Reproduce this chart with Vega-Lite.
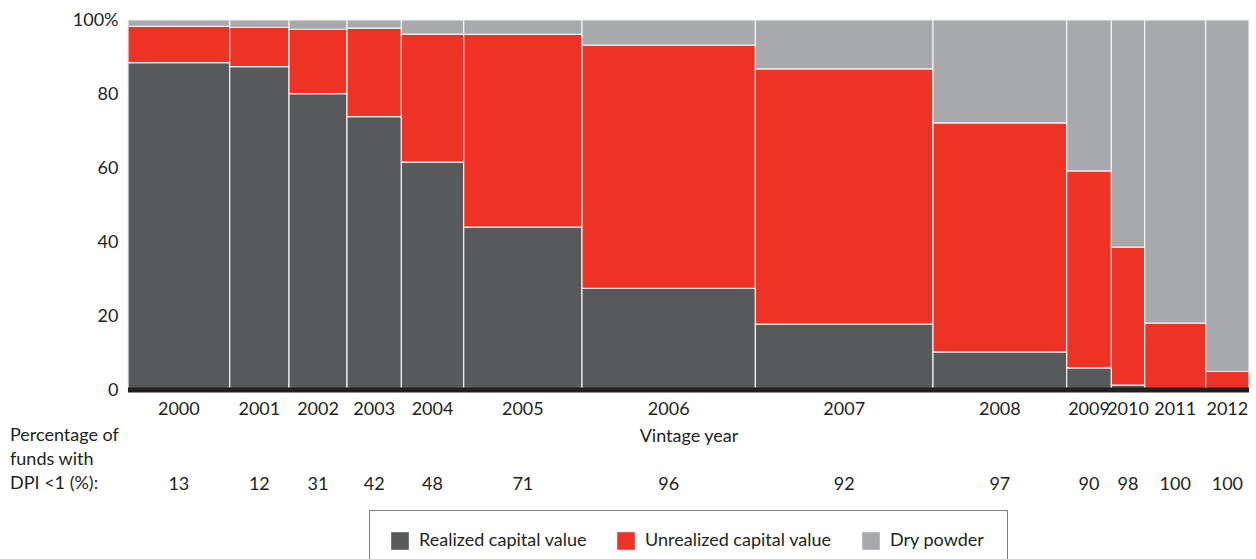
{
  "$schema": "https://vega.github.io/schema/vega-lite/v6.json",
  "width": 1121,
  "height": 370,
  "autosize": {"type": "none"},
  "padding": {"left": 128, "top": 20, "right": 7, "bottom": 169},
  "background": "white",
  "config": {
    "view": {"stroke": null},
    "font": "Lato",
    "text": {"font": "Lato", "fontSize": 18, "color": "#231F20"}
  },
  "datasets": {
    "funds": [
      {"year": "2000", "capital": 101.7, "dpi": 13, "Realized capital value": 88.5, "Unrealized capital value": 9.8, "Dry powder": 1.7},
      {"year": "2001", "capital": 59.3, "dpi": 12, "Realized capital value": 87.4, "Unrealized capital value": 10.6, "Dry powder": 2.0},
      {"year": "2002", "capital": 58.0, "dpi": 31, "Realized capital value": 80.1, "Unrealized capital value": 17.4, "Dry powder": 2.5},
      {"year": "2003", "capital": 54.4, "dpi": 42, "Realized capital value": 73.9, "Unrealized capital value": 23.9, "Dry powder": 2.2},
      {"year": "2004", "capital": 62.3, "dpi": 48, "Realized capital value": 61.6, "Unrealized capital value": 34.6, "Dry powder": 3.8},
      {"year": "2005", "capital": 118.3, "dpi": 71, "Realized capital value": 44.0, "Unrealized capital value": 52.1, "Dry powder": 3.9},
      {"year": "2006", "capital": 173.4, "dpi": 96, "Realized capital value": 27.5, "Unrealized capital value": 65.7, "Dry powder": 6.8},
      {"year": "2007", "capital": 177.6, "dpi": 92, "Realized capital value": 17.8, "Unrealized capital value": 69.0, "Dry powder": 13.2},
      {"year": "2008", "capital": 133.7, "dpi": 97, "Realized capital value": 10.3, "Unrealized capital value": 61.9, "Dry powder": 27.8},
      {"year": "2009", "capital": 44.7, "dpi": 90, "Realized capital value": 6.0, "Unrealized capital value": 53.2, "Dry powder": 40.8},
      {"year": "2010", "capital": 33.3, "dpi": 98, "Realized capital value": 1.3, "Unrealized capital value": 37.3, "Dry powder": 61.4},
      {"year": "2011", "capital": 61.0, "dpi": 100, "Realized capital value": 0.3, "Unrealized capital value": 17.8, "Dry powder": 81.9},
      {"year": "2012", "capital": 43.3, "dpi": 100, "Realized capital value": 0.2, "Unrealized capital value": 4.8, "Dry powder": 95.0}
    ]
  },
  "layer": [
    {
      "data": {"name": "funds"},
      "transform": [
        {"stack": "capital", "groupby": [], "sort": [{"field": "year", "order": "ascending"}], "as": ["x0", "x1"]},
        {"fold": ["Realized capital value", "Unrealized capital value", "Dry powder"], "as": ["category", "share"]},
        {"calculate": "indexof(['Realized capital value','Unrealized capital value','Dry powder'], datum.category)", "as": "ord"},
        {"stack": "share", "groupby": ["year"], "sort": [{"field": "ord", "order": "ascending"}], "as": ["y0", "y1"]}
      ],
      "mark": {"type": "rect", "stroke": "#f2f2f2", "strokeWidth": 1.2},
      "encoding": {
        "x": {
          "field": "x0", "type": "quantitative",
          "scale": {"nice": false, "zero": true},
          "axis": {
            "title": "Vintage year", "labels": false, "ticks": false, "domain": false, "grid": false,
            "titleFont": "Lato", "titleFontSize": 18, "titleFontWeight": "normal", "titleColor": "#231F20",
            "titlePadding": 37
          }
        },
        "x2": {"field": "x1"},
        "y": {
          "field": "y0", "type": "quantitative",
          "scale": {"domain": [0, 100], "nice": false},
          "axis": {
            "title": null, "values": [0, 20, 40, 60, 80, 100],
            "labelExpr": "datum.value == 100 ? '100%' : datum.value",
            "domain": false, "ticks": false, "grid": false,
            "labelPadding": 10, "labelFont": "Lato", "labelFontSize": 18, "labelColor": "#231F20"
          }
        },
        "y2": {"field": "y1"},
        "color": {
          "field": "category", "type": "nominal",
          "scale": {
            "domain": ["Realized capital value", "Unrealized capital value", "Dry powder"],
            "range": ["#58595B", "#EE3224", "#A7A9AC"]
          },
          "legend": {
            "orient": "none", "legendX": 241, "legendY": 490, "direction": "horizontal",
            "title": null, "strokeColor": "#808080", "padding": 22,
            "symbolType": "square", "symbolSize": 310, "symbolStrokeWidth": 0, "symbolOpacity": 1,
            "labelFont": "Lato", "labelFontSize": 18, "labelColor": "#231F20", "labelLimit": 400,
            "labelOffset": 10, "columnPadding": 30
          }
        }
      }
    },
    {
      "data": {"values": [{}]},
      "mark": {"type": "rule", "color": "#231F20", "strokeWidth": 5},
      "encoding": {"y": {"datum": 0}}
    },
    {
      "data": {"name": "funds"},
      "transform": [
        {"stack": "capital", "groupby": [], "sort": [{"field": "year", "order": "ascending"}], "as": ["x0", "x1"]},
        {"calculate": "(datum.x0 + datum.x1) / 2", "as": "xm"}
      ],
      "mark": {"type": "text", "baseline": "middle", "align": "center", "dy": 20, "fontSize": 18, "color": "#231F20"},
      "encoding": {
        "x": {"field": "xm", "type": "quantitative"},
        "y": {"datum": 0},
        "text": {"field": "year"}
      }
    },
    {
      "data": {"name": "funds"},
      "transform": [
        {"stack": "capital", "groupby": [], "sort": [{"field": "year", "order": "ascending"}], "as": ["x0", "x1"]},
        {"calculate": "(datum.x0 + datum.x1) / 2", "as": "xm"}
      ],
      "mark": {"type": "text", "baseline": "middle", "align": "center", "dy": 95, "fontSize": 18, "color": "#231F20"},
      "encoding": {
        "x": {"field": "xm", "type": "quantitative"},
        "y": {"datum": 0},
        "text": {"field": "dpi", "type": "quantitative"}
      }
    },
    {
      "data": {"values": [{}]},
      "mark": {
        "type": "text", "text": ["Percentage of", "funds with", "DPI <1 (%):"],
        "align": "left", "baseline": "middle", "lineHeight": 24, "dx": -118, "dy": 46,
        "fontSize": 18, "color": "#231F20"
      },
      "encoding": {"x": {"datum": 0}, "y": {"datum": 0}}
    }
  ]
}
